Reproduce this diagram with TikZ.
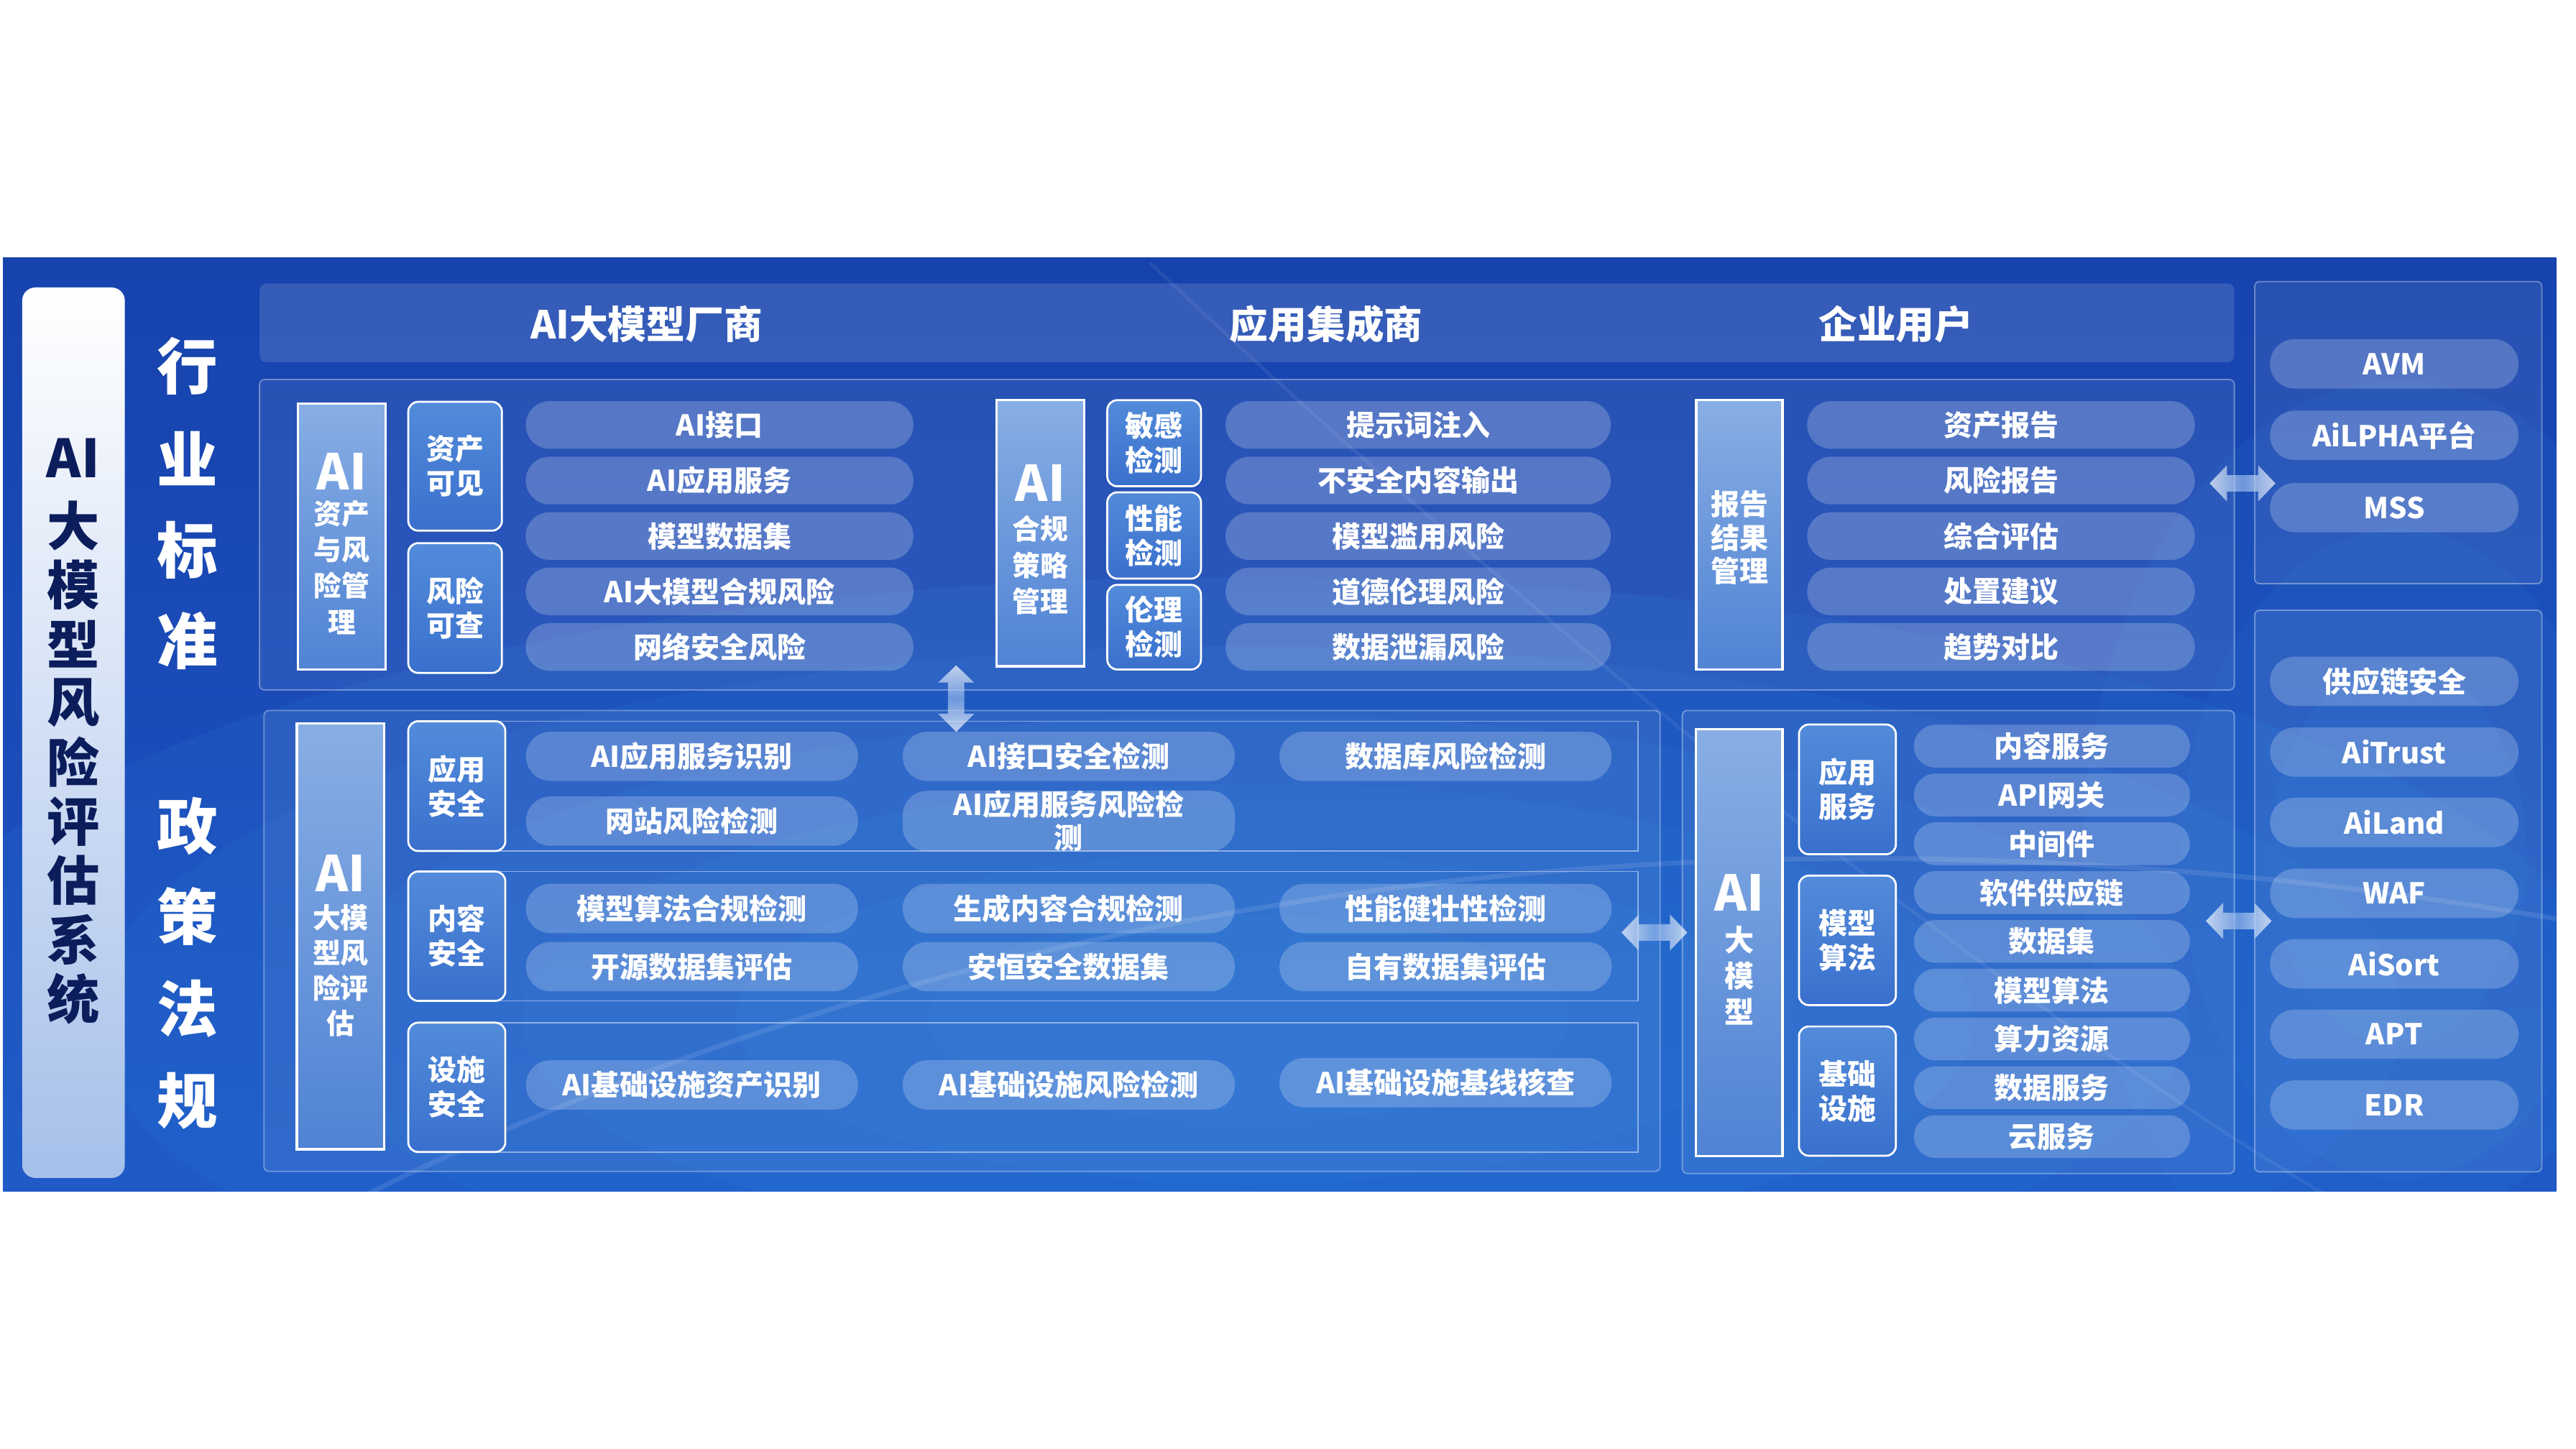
\documentclass[tikz,border=0pt]{standalone}
\usepackage{fontspec}
\setmainfont{Noto Sans CJK SC}
\definecolor{bgmain}{HTML}{1D55C4}
\definecolor{bgdark}{HTML}{1743AD}
\definecolor{bglight}{HTML}{2F86E0}
\definecolor{navy}{HTML}{0C1D5C}
\definecolor{tallTop}{HTML}{88AEE4}
\definecolor{tallBot}{HTML}{5083D4}
\definecolor{smTop}{HTML}{528BDA}
\definecolor{smBot}{HTML}{3A70CD}
\definecolor{arrMid}{HTML}{8FB4EA}
\begin{document}
\begin{tikzpicture}[x=1pt,y=-1pt,font=\bfseries,
  panel/.style={draw=white,draw opacity=.35,fill=white,fill opacity=.07,line width=.8pt,rounded corners=3pt},
  rowframe/.style={draw=white,draw opacity=.45,line width=.8pt},
  pill/.style={fill=white,fill opacity=.21,text opacity=1,text=white,inner sep=0pt,align=center,
    font=\fontsize{17.5}{20}\selectfont\bfseries},
  pillA/.style={pill,minimum width=236,minimum height=29,rounded corners=14.5},
  pillB/.style={pill,minimum width=234.5,minimum height=29,rounded corners=14.5},
  pillR/.style={pill,minimum width=151.3,minimum height=30,rounded corners=15},
  pillL/.style={pill,minimum width=202.2,minimum height=30,rounded corners=15},
  pillM/.style={pill,minimum width=168,minimum height=26,rounded corners=13},
  tallbox/.style={draw=white,line width=1.4pt,top color=tallTop,bottom color=tallBot,inner sep=0pt},
  smbox/.style={draw=white,line width=1.2pt,top color=smTop,bottom color=smBot,rounded corners=6,
    text=white,align=center,inner sep=0pt,font=\fontsize{17.5}{21}\selectfont\bfseries},
  bigAI/.style={text=white,inner sep=0pt,font=\fontsize{30}{30}\selectfont\bfseries},
  subtxt/.style={text=white,inner sep=0pt,align=center,font=\fontsize{17}{22}\selectfont\bfseries},
  headtxt/.style={text=white,inner sep=0pt,font=\fontsize{23.5}{26}\selectfont\bfseries},
  sidetxt/.style={text=white,inner sep=0pt,font=\fontsize{37}{40}\selectfont\bfseries},
  titletxt/.style={text=navy,inner sep=0pt,font=\fontsize{32}{34}\selectfont\bfseries},
  blockarrow/.style={left color=white,right color=white,middle color=arrMid,opacity=.7}
]
\useasboundingbox (0,0) rectangle (1568,882);
\fill[white] (0,0) rectangle (1568,882);
% main background
\shade[top color=bgdark,bottom color=bgmain] (1.75,156.8) rectangle (1556,725);
\begin{scope}
\clip (1.75,156.8) rectangle (1556,725);
\foreach \r in {640,540,440,340,240,150}{
  \fill[bglight,opacity=.12] (760,620) ellipse ({\r*1.3} and {\r*0.42});
}
\foreach \r in {320,220,130}{
  \fill[bglight,opacity=.10] (1460,520) ellipse ({\r*0.6} and {\r*0.9});
}
\draw[white,opacity=.10,line width=3pt] (160,760) .. controls (600,520) and (1100,480) .. (1560,560);
\draw[white,opacity=.07,line width=2pt] (700,160) .. controls (900,350) and (1200,600) .. (1420,730);
\end{scope}

% left title panel
\shade[top color=white,bottom color={rgb,255:red,166;green,192;blue,234},rounded corners=8]
  (13.5,175) rectangle (76,717);
\foreach \t [count=\i] in {AI,大,模,型,风,险,评,估,系,统}{
  \pgfmathsetmacro{\yy}{\i==1 ? 279 : 320+(\i-2)*36}
  \node[titletxt] (tt\i) at (44.5,\yy) {\t};
}
\foreach \t/\yy [count=\i] in {行/223,业/279,标/335,准/390,政/503,策/558,法/614,规/670}{
  \node[sidetxt] (sd\i) at (114,\yy) {\t};
}

% header bar
\fill[white,opacity=.13,rounded corners=4] (158,172.5) rectangle (1360,220.5);
\node[headtxt] (h1) at (393.5,197.5) {AI大模型厂商};
\node[headtxt] (h2) at (807.3,197.5) {应用集成商};
\node[headtxt] (h3) at (1154,197.5) {企业用户};

% panels
\path[panel] (158,231) rectangle (1360,420);
\path[panel] (1372.4,171.4) rectangle (1547.2,355.3);
\path[panel] (1372.4,371.5) rectangle (1547.2,713.3);
\path[panel] (160.7,432.5) rectangle (1010.5,713);
\path[panel] (1024,432.5) rectangle (1360,714.3);
\draw[rowframe] (278,439) rectangle (997,518);
\draw[rowframe] (278,530.5) rectangle (997,609.2);
\draw[rowframe] (278,622.5) rectangle (997,701.2);

% ---- top group 1
\node[tallbox,minimum width=53.3,minimum height=161.9] (T1) at (208.05,326.45) {};
\node[bigAI] (T1a) at (208.05,287) {AI};
\node[subtxt] (T1b) at (208.05,345.3) {资产\\与风\\险管\\理};
\node[smbox,minimum width=57,minimum height=78.4] (S1) at (277,283.8) {资产\\可见};
\node[smbox,minimum width=57,minimum height=79] (S2) at (277,370.1) {风险\\可查};
\foreach \t/\yy [count=\i] in {AI接口/258.7,AI应用服务/292.5,模型数据集/326.3,AI大模型合规风险/360,网络安全风险/393.8}{
  \node[pillA] (pa\i) at (438,\yy) {\t};
}
% ---- top group 2
\node[tallbox,minimum width=53.4,minimum height=162] (T2) at (633.3,324.6) {};
\node[bigAI] (T2a) at (633.3,294) {AI};
\node[subtxt] (T2b) at (633.3,344) {合规\\策略\\管理};
\node[smbox,minimum width=57,minimum height=52.4] (S3) at (702.5,269.8) {敏感\\检测};
\node[smbox,minimum width=57,minimum height=52.5] (S4) at (702.5,325.95) {性能\\检测};
\node[smbox,minimum width=57,minimum height=51.5] (S5) at (702.5,381.75) {伦理\\检测};
\foreach \t/\yy [count=\i] in {提示词注入/258.7,不安全内容输出/292.5,模型滥用风险/326.3,道德伦理风险/360,数据泄漏风险/393.8}{
  \node[pillB] (pb\i) at (863.25,\yy) {\t};
}
% ---- top group 3
\node[tallbox,minimum width=52.5,minimum height=163.9] (T3) at (1058.75,325.55) {};
\node[text=white,inner sep=0pt,align=center,font=\fontsize{17.5}{20.3}\selectfont\bfseries] (T3b) at (1058.75,327.3) {报告\\结果\\管理};
\foreach \t/\yy [count=\i] in {资产报告/258.7,风险报告/292.5,综合评估/326.3,处置建议/360,趋势对比/393.8}{
  \node[pillA] (pc\i) at (1218,\yy) {\t};
}

% ---- right panels
\foreach \t/\yy [count=\i] in {AVM/221.5,AiLPHA平台/265,MSS/309}{
  \node[pillR] (pr\i) at (1457.35,\yy) {\t};
}
\foreach \t/\yy [count=\i] in {供应链安全/414.7,AiTrust/457.8,AiLand/500.6,WAF/543.8,AiSort/586.7,APT/629.5,EDR/672.6}{
  \node[pillR] (ps\i) at (1457.35,\yy) {\t};
}

% ---- lower left
\node[tallbox,minimum width=53.3,minimum height=259.1] (B1) at (207.35,570.05) {};
\node[bigAI] (B1a) at (207.35,531.5) {AI};
\node[text=white,inner sep=0pt,align=center,font=\fontsize{17}{21.4}\selectfont\bfseries] (B1b) at (207.35,590.7) {大模\\型风\\险评\\估};
\node[smbox,minimum width=59.1,minimum height=79] (S6) at (278.05,478.5) {应用\\安全};
\node[smbox,minimum width=59.1,minimum height=78.7] (S7) at (278.05,569.85) {内容\\安全};
\node[smbox,minimum width=59.1,minimum height=78.7] (S8) at (278.05,661.85) {设施\\安全};
\node[pillL] (l11) at (421.2,460.4) {AI应用服务识别};
\node[pillL] (l12) at (650.55,460.4) {AI接口安全检测};
\node[pillL] (l13) at (879.9,460.4) {数据库风险检测};
\node[pillL] (l14) at (421.2,499.8) {网站风险检测};
\node[pillL] (l15) at (650.55,499.8) {AI应用服务风险检\\测};
\node[pillL] (l21) at (421.2,553) {模型算法合规检测};
\node[pillL] (l22) at (650.55,553) {生成内容合规检测};
\node[pillL] (l23) at (879.9,553) {性能健壮性检测};
\node[pillL] (l24) at (421.2,588.4) {开源数据集评估};
\node[pillL] (l25) at (650.55,588.4) {安恒安全数据集};
\node[pillL] (l26) at (879.9,588.4) {自有数据集评估};
\node[pillL] (l31) at (421.2,660.4) {AI基础设施资产识别};
\node[pillL] (l32) at (650.55,660.4) {AI基础设施风险检测};
\node[pillL] (l33) at (879.9,659) {AI基础设施基线核查};

% ---- AI big model
\node[tallbox,minimum width=52.6,minimum height=259.6] (B2) at (1058.7,573.8) {};
\node[bigAI] (B2a) at (1058.7,543.5) {AI};
\node[text=white,inner sep=0pt,align=center,font=\fontsize{18}{22}\selectfont\bfseries] (B2b) at (1058.7,593.7) {大\\模\\型};
\node[smbox,minimum width=59,minimum height=79] (S9) at (1124.5,480.5) {应用\\服务};
\node[smbox,minimum width=59,minimum height=78.8] (S10) at (1124.5,572.4) {模型\\算法};
\node[smbox,minimum width=59,minimum height=78.7] (S11) at (1124.5,664.15) {基础\\设施};
\foreach \t [count=\i] in {内容服务,API网关,中间件,软件供应链,数据集,模型算法,算力资源,数据服务,云服务}{
  \pgfmathsetmacro{\yy}{454.2+(\i-1)*29.7}
  \node[pillM] (pm\i) at (1249,\yy) {\t};
}

% ---- block arrows
\newcommand{\blockharrow}[2]{%
  \shade[blockarrow] (#1-20,#2) -- (#1-9.5,#2-11) -- (#1-9.5,#2-5) -- (#1+9.5,#2-5) -- (#1+9.5,#2-11)
   -- (#1+20,#2) -- (#1+9.5,#2+11) -- (#1+9.5,#2+5) -- (#1-9.5,#2+5) -- (#1-9.5,#2+11) -- cycle;}
\blockharrow{1365}{294.2}
\blockharrow{1007}{567.6}
\blockharrow{1362.7}{560.6}
\shade[top color=white,bottom color=white,middle color=arrMid,opacity=.7]
  (582,405) -- (593,415.5) -- (587,415.5) -- (587,434.5) -- (593,434.5) -- (582,445.5)
  -- (571,434.5) -- (577,434.5) -- (577,415.5) -- (571,415.5) -- cycle;
\end{tikzpicture}
\end{document}
